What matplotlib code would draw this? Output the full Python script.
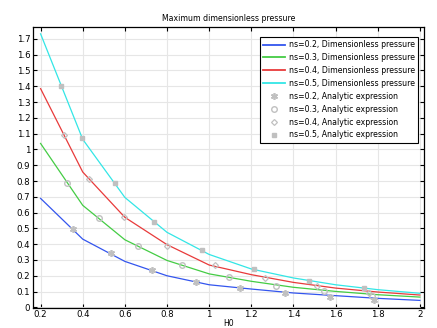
import matplotlib
matplotlib.use("Agg")
import matplotlib.pyplot as plt
import numpy as np

# H0 sample points for the computed curves
h0 = [0.2, 0.4, 0.6, 0.8, 1.0, 1.2, 1.4, 1.6, 1.8, 2.0]
p_02 = [0.69, 0.432, 0.291, 0.200, 0.143, 0.116, 0.091, 0.074, 0.057, 0.044]
p_03 = [1.038, 0.646, 0.428, 0.297, 0.212, 0.165, 0.127, 0.101, 0.080, 0.065]
p_04 = [1.385, 0.857, 0.570, 0.397, 0.268, 0.207, 0.158, 0.122, 0.097, 0.078]
p_05 = [1.732, 1.064, 0.696, 0.475, 0.335, 0.243, 0.186, 0.143, 0.112, 0.089]

# analytic expression markers
a02_x = [0.352, 0.533, 0.730, 0.937, 1.148, 1.358, 1.572, 1.784]
a02_y = [0.498, 0.342, 0.236, 0.162, 0.120, 0.089, 0.068, 0.049]
a03_x = [0.327, 0.478, 0.663, 0.873, 1.092, 1.317, 1.543, 1.773]
a03_y = [0.789, 0.563, 0.388, 0.268, 0.190, 0.137, 0.101, 0.072]
a04_x = [0.311, 0.432, 0.597, 0.800, 1.030, 1.266, 1.512, 1.757]
a04_y = [1.093, 0.814, 0.572, 0.390, 0.268, 0.188, 0.133, 0.091]
a05_x = [0.298, 0.398, 0.552, 0.740, 0.965, 1.211, 1.472, 1.733]
a05_y = [1.402, 1.074, 0.787, 0.542, 0.361, 0.241, 0.165, 0.120]

plt.rcParams['font.family'] = ['DejaVu Sans']
fs = 6.2   # tick labels
fs2 = 5.6  # title, legend, axis label

fig = plt.figure(figsize=(4.37, 3.28), dpi=100)
ax = fig.add_axes([0.0755, 0.062, 0.895, 0.856])

ax.plot(h0, p_02, color='#3355ee', lw=0.9, label='ns=0.2, Dimensionless pressure')
ax.plot(h0, p_03, color='#44cc44', lw=0.9, label='ns=0.3, Dimensionless pressure')
ax.plot(h0, p_04, color='#e83a3a', lw=0.9, label='ns=0.4, Dimensionless pressure')
ax.plot(h0, p_05, color='#33e6e6', lw=0.9, label='ns=0.5, Dimensionless pressure')

gray = '#c0c0c0'
ax.plot(a02_x, a02_y, ls='none', marker=(6, 2, 0), ms=5, mec=gray, mew=1.2,
        label='ns=0.2, Analytic expression')
ax.plot(a03_x, a03_y, ls='none', marker='o', ms=4, mfc='none', mec=gray, mew=1.0,
        label='ns=0.3, Analytic expression')
ax.plot(a04_x, a04_y, ls='none', marker='D', ms=3, mfc='none', mec=gray, mew=0.9,
        label='ns=0.4, Analytic expression')
ax.plot(a05_x, a05_y, ls='none', marker='s', ms=3, mfc=gray, mec=gray,
        label='ns=0.5, Analytic expression')

ax.set_xlim(0.164, 2.02)
ax.set_ylim(-0.002, 1.776)
ax.set_xticks(np.arange(0.2, 2.01, 0.2))
ax.set_xticklabels(['0.2', '0.4', '0.6', '0.8', '1', '1.2', '1.4', '1.6', '1.8', '2'])
yt = np.round(np.arange(0, 1.71, 0.1), 1)
ax.set_yticks(yt)
ax.set_yticklabels(['0' if v == 0 else ('1' if v == 1 else f'{v:g}') for v in yt])
ax.tick_params(direction='in', top=True, right=True, labelsize=fs, length=3, width=0.8, pad=2)
ax.grid(True, color='#e6e6e6', lw=0.8)
for s in ax.spines.values():
    s.set_linewidth(0.9)

ax.set_title('Maximum dimensionless pressure', fontsize=fs2, pad=4)
ax.set_xlabel('H0', fontsize=fs2, labelpad=0)

leg = ax.legend(loc='upper right', fontsize=fs2, frameon=True, fancybox=False,
                edgecolor='black', framealpha=1, borderpad=0.45, labelspacing=0.5,
                handlelength=2.8, handletextpad=0.45, borderaxespad=0,
                bbox_to_anchor=(0.985, 0.965))
leg.get_frame().set_linewidth(0.8)
for h in leg.get_lines()[:4]:
    h.set_linewidth(1.3)

fig.savefig('out.png', dpi=100)
